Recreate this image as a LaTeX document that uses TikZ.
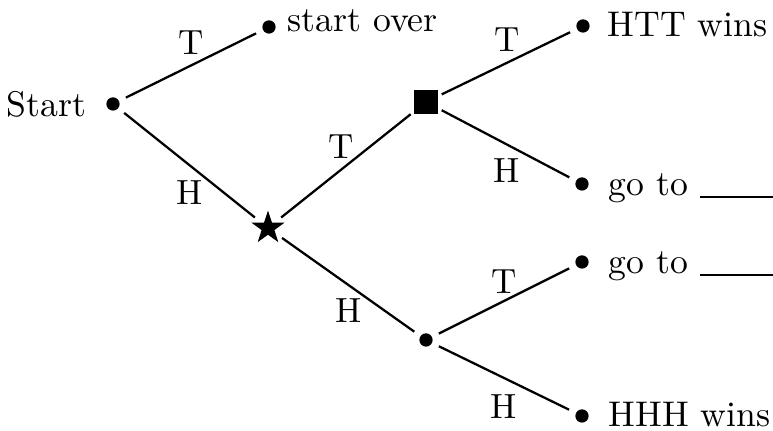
\documentclass[tikz,border=0pt]{standalone}
\usetikzlibrary{shapes.geometric}
\begin{document}
\begin{tikzpicture}[x=0.286pt,y=-0.286pt,
    dot/.style={circle,fill,inner sep=0pt,minimum size=3.8pt},
    edge/.style={line width=0.65pt,shorten <=2pt,shorten >=2pt},
    lab/.style={inner sep=0pt},
    txt/.style={anchor=base west,inner sep=0pt}]
  \useasboundingbox (0,0) rectangle (773,431);
  % states
  \node[dot] (start) at (113,104) {};
  \node[dot] (over) at (269,27) {};
  \node[star,star points=5,star point ratio=2.6,fill,inner sep=0pt,minimum size=10pt] (h) at (268,228) {};
  \node[rectangle,fill,inner sep=0pt,minimum size=6.8pt] (ht) at (426,102) {};
  \node[dot] (hh) at (426,340) {};
  \node[dot] (htt) at (583,26) {};
  \node[dot] (hth) at (582,184) {};
  \node[dot] (hht) at (582,262) {};
  \node[dot] (hhh) at (582,416) {};
  % texts
  \node[anchor=base east,inner sep=0pt] (tstart) at (87,117) {\fontsize{10.2}{12}\selectfont Start};
  \node[txt] (tover) at (287,32) {\fontsize{10.2}{12}\selectfont start over};
  \node[txt] (thtt) at (607,37) {\fontsize{10.2}{12}\selectfont HTT wins};
  \node[txt] (thth) at (608,196) {\fontsize{10.2}{12}\selectfont go to \rule[-0.6pt]{21pt}{0.5pt}};
  \node[txt] (thht) at (608,274) {\fontsize{10.2}{12}\selectfont go to \rule[-0.6pt]{21pt}{0.5pt}};
  \node[txt] (thhh) at (608,427) {\fontsize{10.2}{12}\selectfont HHH wins};
  % branches
  \draw[edge] (start) -- node[lab,above=2.7pt] {T} (over);
  \draw[edge] (start) -- node[lab,below=4.1pt] {H} (h);
  \draw[edge,shorten >=1pt] (h) -- node[lab,above=2.2pt,xshift=-1pt] {T} (ht);
  \draw[edge] (h) -- node[lab,below=3.6pt] {H} (hh);
  \draw[edge,shorten <=1pt] (ht) -- node[lab,above=2.7pt] {T} (htt);
  \draw[edge,shorten <=1pt] (ht) -- node[lab,below=3.8pt] {H} (hth);
  \draw[edge] (hh) -- node[lab,above=1.8pt] {T} (hht);
  \draw[edge] (hh) -- node[lab,below=4.4pt] {H} (hhh);
\end{tikzpicture}
\end{document}
